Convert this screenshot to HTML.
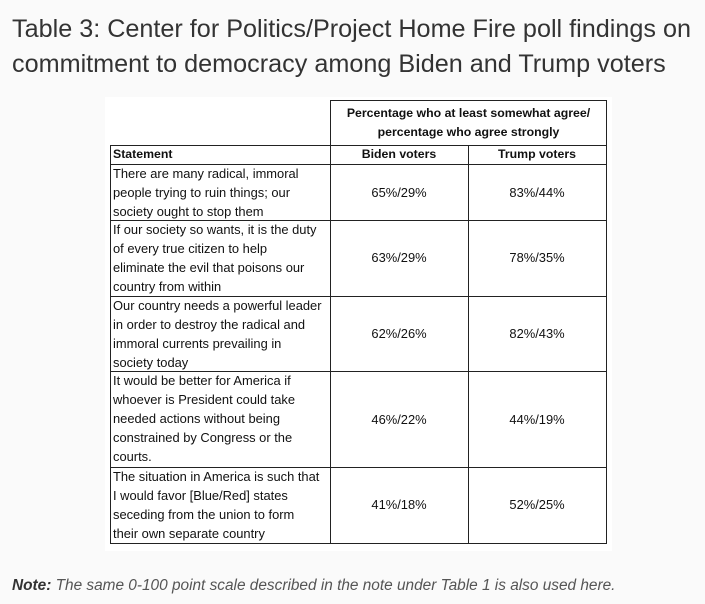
<!DOCTYPE html>
<html><head><meta charset="utf-8"><style>
body{margin:0;width:705px;height:604px;background:#fafafa;position:relative;overflow:hidden;font-family:"Liberation Sans",sans-serif}
.t{position:absolute;left:12px;top:12px;font-size:25.2px;line-height:35px;color:#333;}
.img{position:absolute;left:105px;top:97px;width:507px;height:454px;background:#fff}
.b{position:absolute;border:1px solid #222;box-sizing:border-box}
.tx{position:absolute;font-size:12.9px;line-height:19px;color:#111;white-space:nowrap}
.c{text-align:center}
.n{position:absolute;left:12px;top:577px;font-size:15.4px;font-style:italic;color:#555}
</style></head><body>
<div class="t">Table 3: Center for Politics/Project Home Fire poll findings on<br>commitment to democracy among Biden and Trump voters</div>
<div class="img"></div>
<div class="b" style="left:330px;top:100px;width:277px;height:46px"></div>
<div class="tx c" style="left:330px;top:104px;width:277px;font-weight:bold;font-size:12.3px">Percentage who at least somewhat agree/<br>percentage who agree strongly</div>
<div class="b" style="left:110px;top:145px;width:497px;height:399px"></div>
<div style="position:absolute;left:330px;top:145px;width:1px;height:399px;background:#222"></div>
<div style="position:absolute;left:468px;top:145px;width:1px;height:399px;background:#222"></div>
<div style="position:absolute;left:110px;top:164px;width:497px;height:1px;background:#222"></div>
<div style="position:absolute;left:110px;top:220px;width:497px;height:1px;background:#222"></div>
<div style="position:absolute;left:110px;top:296px;width:497px;height:1px;background:#222"></div>
<div style="position:absolute;left:110px;top:371px;width:497px;height:1px;background:#222"></div>
<div style="position:absolute;left:110px;top:467px;width:497px;height:1px;background:#222"></div>
<div class="tx" style="left:113px;top:145px;font-weight:bold;font-size:12.3px">Statement</div>
<div class="tx c" style="left:330px;top:145px;width:138px;font-weight:bold;font-size:12.3px">Biden voters</div>
<div class="tx c" style="left:468px;top:145px;width:138px;font-weight:bold;font-size:12.3px">Trump voters</div>

<div class="tx" style="left:113px;top:164px">There are many radical, immoral<br>people trying to ruin things; our<br>society ought to stop them</div>
<div class="tx c" style="left:330px;top:183px;width:138px">65%/29%</div>
<div class="tx c" style="left:468px;top:183px;width:138px">83%/44%</div>

<div class="tx" style="left:113px;top:220px">If our society so wants, it is the duty<br>of every true citizen to help<br>eliminate the evil that poisons our<br>country from within</div>
<div class="tx c" style="left:330px;top:248px;width:138px">63%/29%</div>
<div class="tx c" style="left:468px;top:248px;width:138px">78%/35%</div>

<div class="tx" style="left:113px;top:296px">Our country needs a powerful leader<br>in order to destroy the radical and<br>immoral currents prevailing in<br>society today</div>
<div class="tx c" style="left:330px;top:324px;width:138px">62%/26%</div>
<div class="tx c" style="left:468px;top:324px;width:138px">82%/43%</div>

<div class="tx" style="left:113px;top:371px">It would be better for America if<br>whoever is President could take<br>needed actions without being<br>constrained by Congress or the<br>courts.</div>
<div class="tx c" style="left:330px;top:410px;width:138px">46%/22%</div>
<div class="tx c" style="left:468px;top:410px;width:138px">44%/19%</div>

<div class="tx" style="left:113px;top:467px">The situation in America is such that<br>I would favor [Blue/Red] states<br>seceding from the union to form<br>their own separate country</div>
<div class="tx c" style="left:330px;top:495px;width:138px">41%/18%</div>
<div class="tx c" style="left:468px;top:495px;width:138px">52%/25%</div>

<div class="n"><b style="color:#333">Note:</b> The same 0-100 point scale described in the note under Table 1 is also used here.</div>
</body></html>
